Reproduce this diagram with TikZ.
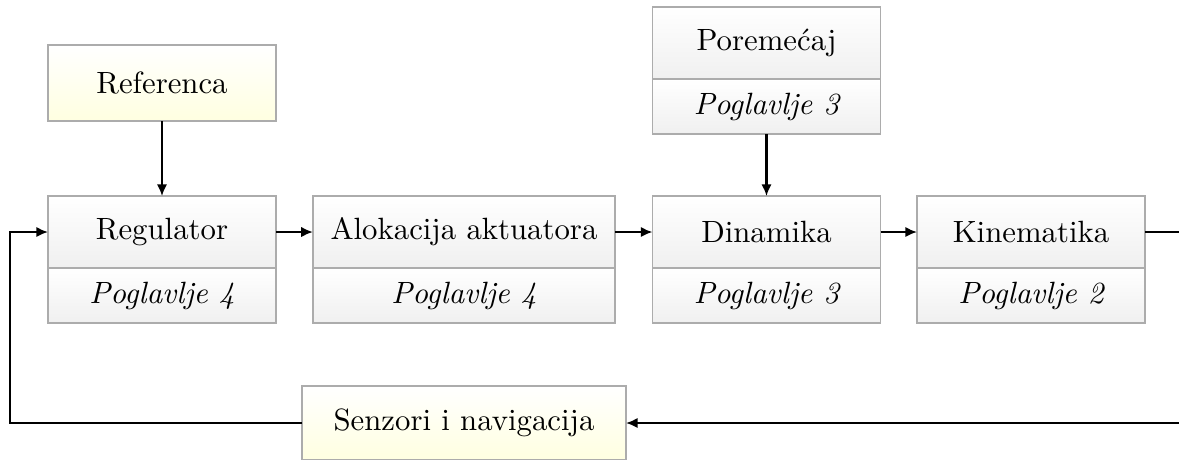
\documentclass[tikz,border=0pt]{standalone}
\usepackage{fontspec}
\usetikzlibrary{arrows.meta}
\begin{document}
\begin{tikzpicture}[x=0.325pt,y=-0.325pt,
  blk/.style={draw=gray!65, line width=0.6pt, top color=white, bottom color=gray!12,
    inner sep=0pt, outer sep=0pt, minimum width=74.1pt, font=\fontsize{10}{12}\selectfont},
  ybk/.style={blk, bottom color=yellow!12},
  toph/.style={minimum height=23.4pt},
  both/.style={minimum height=17.9pt, anchor=north, font=\fontsize{10}{12}\selectfont\itshape},
  arr/.style={draw=black, line width=0.7pt, -{Latex[length=3.8pt,width=3.4pt]}},
  ln/.style={draw=black, line width=0.7pt}
]
\useasboundingbox (0,0) rectangle (1179,459);
\clip (0,0) rectangle (1179,459);
% reference
\node[ybk, minimum height=24.7pt] (ref) at (162,83) {Referenca};
% disturbance
\node[blk, toph] (por) at (766.5,43) {Poreme\'{c}aj};
\node[blk, both] (porp) at (por.south) {Poglavlje 3};
% main chain
\node[blk, toph] (reg) at (162,232) {Regulator};
\node[blk, both] (regp) at (reg.south) {Poglavlje 4};
\node[blk, toph, minimum width=98.2pt] (alo) at (464,232) {Alokacija aktuatora};
\node[blk, both, minimum width=98.2pt] (alop) at (alo.south) {Poglavlje 4};
\node[blk, toph] (din) at (766.5,232) {Dinamika};
\node[blk, both] (dinp) at (din.south) {Poglavlje 3};
\node[blk, toph] (kin) at (1031,232) {Kinematika};
\node[blk, both] (kinp) at (kin.south) {Poglavlje 2};
% sensors
\node[ybk, minimum height=24.1pt, minimum width=105.3pt] (sen) at (464,423) {Senzori i navigacija};
% connectors
\draw[arr] (ref.south) -- (reg.north);
\draw[arr] (porp.south) -- (din.north);
\draw[arr] (reg.east) -- (alo.west);
\draw[arr] (alo.east) -- (din.west);
\draw[arr] (din.east) -- (kin.west);
\coordinate (rc) at (1200,423);
\coordinate (lc) at (10,423);
\draw[arr] (kin.east) -| (rc) -- (sen.east);
\draw[arr] (sen.west) -- (lc) |- (reg.west);
\end{tikzpicture}
\end{document}
